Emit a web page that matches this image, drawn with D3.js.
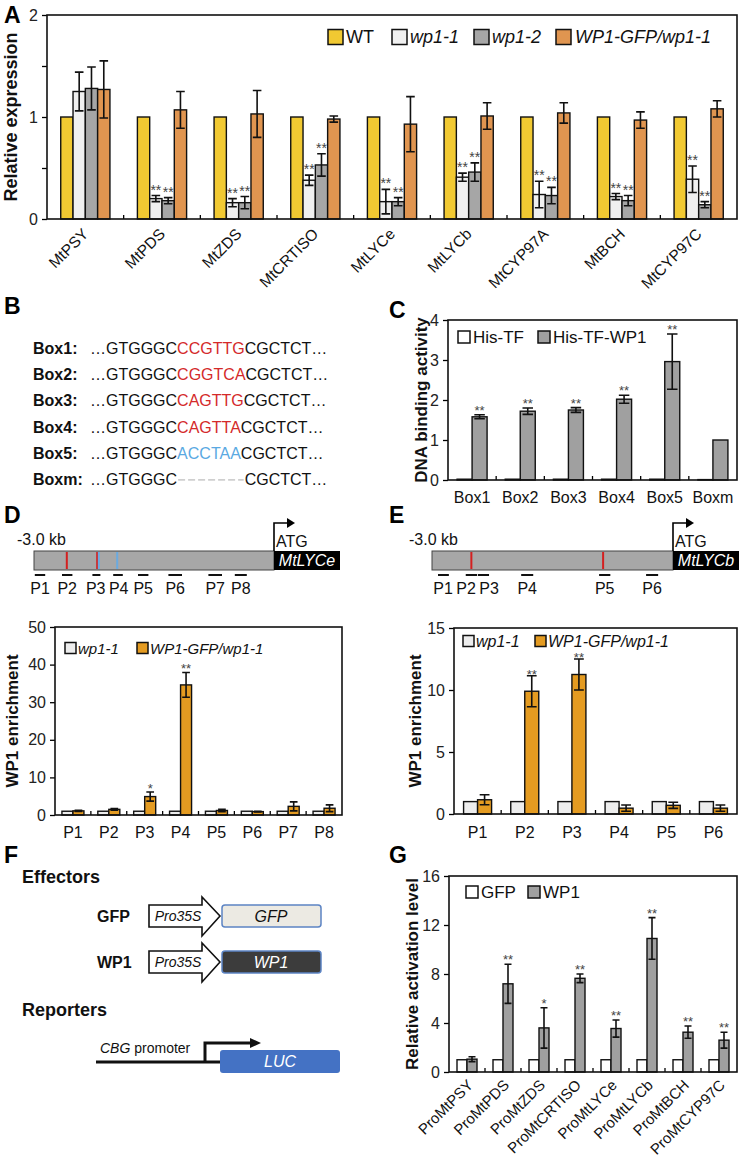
<!DOCTYPE html>
<html><head><meta charset="utf-8">
<script src="https://cdn.jsdelivr.net/npm/d3@7"></script>
<style>body{margin:0;background:#fff;} svg{display:block;} svg text{font-family:"Liberation Sans",Arial,sans-serif;}</style>
</head><body><svg id="fig" width="742" height="1162" font-family="Liberation Sans, Arial, sans-serif"></svg>
<script>
// ================= DATA =================
// Panel A
const genesA = ["MtPSY","MtPDS","MtZDS","MtCRTISO","MtLYCe","MtLYCb","MtCYP97A","MtBCH","MtCYP97C"];
const seriesA = ["WT","wp1-1","wp1-2","WP1-GFP/wp1-1"];
const wtA      = [1,1,1,1,1,1,1,1,1];
const wp11A    = [1.25,0.20,0.16,0.38,0.17,0.41,0.24,0.22,0.39];
const wp11ErrA = [0.19,0.03,0.04,0.05,0.12,0.04,0.13,0.03,0.13];
const wp12A    = [1.28,0.18,0.16,0.53,0.17,0.46,0.23,0.18,0.14];
const wp12ErrA = [0.21,0.03,0.06,0.11,0.04,0.09,0.08,0.05,0.03];
const compA    = [1.27,1.07,1.03,0.98,0.93,1.01,1.04,0.97,1.08];
const compErrA = [0.28,0.18,0.23,0.03,0.27,0.13,0.10,0.08,0.08];
const starsA   = ["","**","**","**","**","**","**","**","**"];
const ticksA = [0,0.5,1,1.5,2];
const tickLabelsA = [0,1,2];

// Panel B
const boxNames = ["Box1:","Box2:","Box3:","Box4:","Box5:","Boxm:"];
const boxLeft = "\u2026GTGGGC";
const boxCores = ["CCGTTG","CGGTCA","CAGTTG","CAGTTA","ACCTAA",""];
const boxCoreType = ["red","red","red","red","blue","gap"];
const boxRight = "CGCTCT\u2026";

// Panel C
const boxesC = ["Box1","Box2","Box3","Box4","Box5","Boxm"];
const seriesC = ["His-TF","His-TF-WP1"];
const hisTF = [0.02,0.02,0.02,0.02,0.02,0.01];
const hisTFWP1 = [1.58,1.72,1.75,2.02,2.96,1.0];
const hisTFWP1Err = [0.05,0.08,0.06,0.10,0.69,0];
const starsC = ["**","**","**","**","**",""];
const ticksC = [0,1,2,3,4];

// Panel D (MtLYCe promoter)
const primersD = ["P1","P2","P3","P4","P5","P6","P7","P8"];
const seriesD = ["wp1-1","WP1-GFP/wp1-1"];
const wp11D = [1,1,1,1,1,1,1,1];
const compD = [1.1,1.5,4.9,34.6,1.2,0.9,2.3,1.8];
const compErrD = [0.15,0.2,1.2,3.3,0.3,0.1,1.2,0.9];
const starsD = ["","","*","**","","","",""];
const ticksD = [0,10,20,30,40,50];
const lyceRedSites = [-2.59,-2.21];
const lyceBlueSites = [-2.19,-1.96];
const lycePrimers = [[-2.99,-2.86],[-2.65,-2.52],[-2.27,-2.17],[-2.01,-1.89],[-1.70,-1.57],[-1.32,-1.15],[-0.82,-0.65],[-0.49,-0.34]];

// Panel E (MtLYCb promoter)
const primersE = ["P1","P2","P3","P4","P5","P6"];
const wp11E = [1,1,1,1,1,1];
const compE = [1.15,9.9,11.25,0.47,0.7,0.47];
const compErrE = [0.4,1.25,1.25,0.25,0.25,0.25];
const starsE = ["","**","**","","",""];
const ticksE = [0,5,10,15];
const lycbRedSites = [-2.51,-0.87];
const lycbPrimers = [[-2.925,-2.79],[-2.58,-2.44],[-2.43,-2.29],[-1.89,-1.74],[-0.92,-0.78],[-0.335,-0.185]];

// Panel G
const promG = ["ProMtPSY","ProMtPDS","ProMtZDS","ProMtCRTISO","ProMtLYCe","ProMtLYCb","ProMtBCH","ProMtCYP97C"];
const seriesG = ["GFP","WP1"];
const gfpG = [1,1,1,1,1,1,1,1];
const wp1G = [1.05,7.2,3.6,7.65,3.55,10.9,3.25,2.6];
const wp1ErrG = [0.2,1.6,1.65,0.35,0.7,1.7,0.5,0.65];
const starsG = ["","**","*","**","**","**","**","**"];
const ticksG = [0,4,8,12,16];

// ================= DRAW =================
const svg = d3.select("#fig");
const FONT = '"Liberation Sans",Arial,sans-serif';

function panelLetter(t,x,y){
  svg.append("text").attr("x",x).attr("y",y).attr("font-size",23).attr("font-weight","bold").text(t);
}

function barPanel(c){
  const g = svg.append("g");
  const x = d3.scaleBand().domain(c.cats).range([c.L,c.R]);
  const y = d3.scaleLinear().domain([0,c.yMax]).range([c.B,c.T]);
  const keys = c.series.map(s=>s.key);
  const n = keys.length;
  const xi = d3.scaleBand().domain(keys).range([-n*c.bw/2, n*c.bw/2]);
  const starDy = c.starDy==null ? 0 : c.starDy;
  const ax = d3.axisLeft(y).tickValues(c.ticks).tickSize(5).tickPadding(4)
     .tickFormat(d => (c.labeled ? c.labeled.includes(d) : true) ? d : "");
  const ag = g.append("g").attr("transform",`translate(${c.L},0)`).call(ax);
  ag.attr("font-family",FONT);
  ag.select(".domain").remove();
  ag.selectAll("line").attr("stroke","#000").attr("stroke-width",1.3);
  ag.selectAll("text").attr("font-size",c.tickFont||16).attr("fill","#222");
  c.series.forEach(s=>{
    const d = c.cats.map((cat,i)=>({cat, v:s.values[i], e:s.errs?s.errs[i]:0, st:s.stars?s.stars[i]:""}));
    const cx = dd => x(dd.cat)+x.bandwidth()/2 + xi(s.key) + c.bw/2;
    g.selectAll(null).data(d).join("rect")
      .attr("x",dd=>x(dd.cat)+x.bandwidth()/2+xi(s.key))
      .attr("y",dd=>y(dd.v)).attr("width",c.bw).attr("height",dd=>y(0)-y(dd.v))
      .attr("fill",s.color).attr("stroke","#111").attr("stroke-width",1.4);
    const ed = d.filter(dd=>dd.e>0);
    const cap = c.bw*0.35;
    g.selectAll(null).data(ed).join("path")
      .attr("d",dd=>`M${cx(dd)},${y(dd.v-dd.e)}V${y(dd.v+dd.e)}M${cx(dd)-cap},${y(dd.v+dd.e)}H${cx(dd)+cap}M${cx(dd)-cap},${y(dd.v-dd.e)}H${cx(dd)+cap}`)
      .attr("stroke","#111").attr("stroke-width",1.6).attr("fill","none");
    g.selectAll(null).data(d.filter(dd=>dd.st)).join("text")
      .attr("x",cx).attr("y",dd=>y(dd.v+dd.e)+starDy)
      .attr("text-anchor","middle").attr("font-size",c.starFont||13).attr("fill","#444").text(dd=>dd.st);
  });
  g.selectAll(null).data(c.cats.slice(1)).join("line")
    .attr("x1",d=>x(d)).attr("x2",d=>x(d)).attr("y1",c.B).attr("y2",c.B-4)
    .attr("stroke","#000").attr("stroke-width",1.3);
  g.append("rect").attr("x",c.L).attr("y",c.T).attr("width",c.R-c.L).attr("height",c.B-c.T)
    .attr("fill","none").attr("stroke","#111").attr("stroke-width",1.6);
  if(c.rot){
    g.selectAll(null).data(c.cats).join("text")
      .attr("transform",d=>`translate(${x(d)+x.bandwidth()/2+c.rot.dx},${c.B+c.rot.dy}) rotate(-45)`)
      .attr("text-anchor","end").attr("font-size",c.rot.size).attr("font-family",FONT)
      .attr("fill","#111").text(d=>d);
  } else {
    g.selectAll(null).data(c.cats).join("text")
      .attr("x",d=>x(d)+x.bandwidth()/2).attr("y",c.B+c.xlDy)
      .attr("text-anchor","middle").attr("font-size",16).attr("fill","#111").text(d=>d);
  }
  g.append("text").attr("transform",`translate(${c.ylX},${(c.T+c.B)/2}) rotate(-90)`)
    .attr("text-anchor","middle").attr("dominant-baseline","central")
    .attr("font-size",c.ylSize||17).attr("font-weight","bold").attr("fill","#111").text(c.yLabel);
  c.legend.items.forEach((it,i)=>{
    const s = c.series[i];
    g.append("rect").attr("x",it.x).attr("y",c.legend.y-c.legend.sq/2).attr("width",c.legend.sq).attr("height",c.legend.sq)
      .attr("fill",s.color).attr("stroke","#111").attr("stroke-width",1.5);
    g.append("text").attr("x",it.tx).attr("y",c.legend.y).attr("dominant-baseline","central")
      .attr("font-size",c.legend.size).attr("font-style",it.italic?"italic":"normal").attr("fill","#111").text(s.key);
  });
  return {x,y};
}

const YEL="#F1C932", LG="#F0F0F0", DG="#A6A6A6", ORA="#E09550", ORA2="#E49B21";

// ---- Panel A
panelLetter("A",4,23);
barPanel({
  cats:genesA, L:47, R:737, T:15, B:219, yMax:2, ticks:ticksA, labeled:tickLabelsA, bw:12.3, starDy:-1, starFont:14,
  series:[
    {key:seriesA[0],values:wtA,color:YEL},
    {key:seriesA[1],values:wp11A,errs:wp11ErrA,stars:starsA,color:LG},
    {key:seriesA[2],values:wp12A,errs:wp12ErrA,stars:starsA,color:DG},
    {key:seriesA[3],values:compA,errs:compErrA,color:ORA}],
  rot:{dx:4,dy:16,size:15.5},
  yLabel:"Relative expression", ylX:11, ylSize:18,
  legend:{y:37,sq:15,size:18,items:[{x:328,tx:346},{x:392,tx:410,italic:true},{x:474,tx:492,italic:true},{x:556,tx:575,italic:true}]}
});

// ---- Panel B
panelLetter("B",4,314);
const rowY = d3.scaleBand().domain(boxNames).range([335,492]);
boxNames.forEach((nm,i)=>{
  const yb = rowY(nm)+rowY.bandwidth()/2+6;
  svg.append("text").attr("x",33).attr("y",yb).attr("font-size",16).attr("font-weight","bold").attr("fill","#111").text(nm);
  const t = svg.append("text").attr("x",90).attr("y",yb).attr("font-size",16).attr("fill","#111");
  const left = t.append("tspan").text(boxLeft);
  const type = boxCoreType[i];
  const core = t.append("tspan").text(type==="gap"?boxCores[0]:boxCores[i])
     .attr("fill", type==="red"?"#D42A2A": type==="blue"?"#5AA9E2":"none");
  t.append("tspan").text(boxRight);
  if(type==="gap"){
    const x0 = 90 + left.node().getComputedTextLength();
    const w = core.node().getComputedTextLength();
    svg.append("line").attr("x1",x0+1).attr("x2",x0+w-1).attr("y1",yb-5).attr("y2",yb-5)
      .attr("stroke","#cfcfcf").attr("stroke-width",1.6).attr("stroke-dasharray","7,3");
  }
});

// ---- Panel C
panelLetter("C",389,318);
barPanel({
  cats:boxesC, L:448, R:737, T:320, B:480, yMax:4, ticks:ticksC, bw:15,
  series:[{key:seriesC[0],values:hisTF,color:"#fff"},
          {key:seriesC[1],values:hisTFWP1,errs:hisTFWP1Err,stars:starsC,color:"#A0A0A0"}],
  xlDy:23, yLabel:"DNA binding activity", ylX:421, ylSize:17,
  legend:{y:337,sq:12,size:17,items:[{x:458,tx:473},{x:538,tx:553}]}
});

// ---- Promoter diagrams
function promoter(c){
  const g = svg.append("g");
  const x = d3.scaleLinear().domain([-3.0,0]).range([c.x0,c.x1]);
  g.append("text").attr("x",c.kbX).attr("y",545).attr("font-size",16).attr("fill","#111").text("-3.0 kb");
  g.append("rect").attr("x",x(-3)).attr("y",551).attr("width",x(0)-x(-3)).attr("height",19)
    .attr("fill","#A7A7A7").attr("stroke","#444").attr("stroke-width",1);
  g.append("rect").attr("x",x(0)).attr("y",551).attr("width",c.geneW).attr("height",19).attr("fill","#000");
  g.append("text").attr("x",x(0)+c.geneW/2).attr("y",566).attr("text-anchor","middle")
    .attr("font-size",16).attr("font-style","italic").attr("fill","#fff").text(c.gene);
  g.selectAll(null).data(c.red).join("line").attr("x1",d=>x(d)).attr("x2",d=>x(d)).attr("y1",552).attr("y2",569)
    .attr("stroke","#D42020").attr("stroke-width",2);
  g.selectAll(null).data(c.blue||[]).join("line").attr("x1",d=>x(d)).attr("x2",d=>x(d)).attr("y1",552).attr("y2",569)
    .attr("stroke","#6AAAE0").attr("stroke-width",2);
  g.append("path").attr("d",`M${x(0)},551V523H${x(0)+15}`).attr("stroke","#000").attr("stroke-width",1.6).attr("fill","none");
  g.append("path").attr("d",`M${x(0)+13},518L${x(0)+21},523L${x(0)+13},528Z`).attr("fill","#000");
  g.append("text").attr("x",x(0)+2).attr("y",547).attr("font-size",16).attr("fill","#111").text("ATG");
  g.selectAll(null).data(c.primers).join("line").attr("x1",d=>x(d[0])).attr("x2",d=>x(d[1])).attr("y1",575).attr("y2",575)
    .attr("stroke","#111").attr("stroke-width",2);
  const lx = c.primers.map(d=>x((d[0]+d[1])/2));
  for(let it=0;it<20;it++){
    for(let i=1;i<lx.length;i++){
      const gap = lx[i]-lx[i-1];
      if(gap<23){ const p=(23-gap)/2; lx[i]+=p; lx[i-1]-=p; }
    }
  }
  g.selectAll(null).data(c.names).join("text").attr("x",(d,i)=>lx[i]).attr("y",594).attr("text-anchor","middle")
    .attr("font-size",16).attr("fill","#111").text(d=>d);
}
panelLetter("D",4,523);
promoter({x0:34,x1:274,geneW:66,gene:"MtLYCe",kbX:17,red:lyceRedSites,blue:lyceBlueSites,primers:lycePrimers,names:primersD});
panelLetter("E",389,523);
promoter({x0:432,x1:673,geneW:66,gene:"MtLYCb",kbX:409,red:lycbRedSites,primers:lycbPrimers,names:primersE});

// ---- Panel D chart
barPanel({
  cats:primersD, L:55, R:342, T:627, B:815, yMax:50, ticks:ticksD, bw:11, starDy:1,
  series:[{key:seriesD[0],values:wp11D,color:"#EDEDED"},
          {key:seriesD[1],values:compD,errs:compErrD,stars:starsD,color:ORA2}],
  xlDy:23, yLabel:"WP1 enrichment", ylX:12, ylSize:17,
  legend:{y:648,sq:11,size:15,items:[{x:65,tx:78,italic:true},{x:137,tx:150,italic:true}]}
});

// ---- Panel E chart
barPanel({
  cats:primersE, L:454, R:737, T:628, B:814, yMax:15, ticks:ticksE, bw:14, starDy:3,
  series:[{key:seriesD[0],values:wp11E,color:"#EDEDED"},
          {key:seriesD[1],values:compE,errs:compErrE,stars:starsE,color:ORA2}],
  xlDy:24, yLabel:"WP1 enrichment", ylX:415, ylSize:17,
  legend:{y:641,sq:11,size:16,items:[{x:463,tx:476,italic:true},{x:535,tx:548,italic:true}]}
});

// ---- Panel F
panelLetter("F",4,863);
svg.append("text").attr("x",22).attr("y",883).attr("font-size",18).attr("font-weight","bold").attr("fill","#111").text("Effectors");
svg.append("text").attr("x",22).attr("y",1016).attr("font-size",18).attr("font-weight","bold").attr("fill","#111").text("Reporters");
const effectors = [{lab:"GFP",cy:916,fill:"#ECEAE3",tc:"#111"},{lab:"WP1",cy:962,fill:"#3C3C3C",tc:"#fff"}];
effectors.forEach(e=>{
  svg.append("text").attr("x",97).attr("y",e.cy+6).attr("font-size",16).attr("font-weight","bold").attr("fill","#111").text(e.lab);
  svg.append("path").attr("d",`M149,${e.cy-11}H202V${e.cy-19}L220,${e.cy}L202,${e.cy+20}V${e.cy+11}H149Z`)
    .attr("fill","#fff").attr("stroke","#111").attr("stroke-width",1.6);
  svg.append("text").attr("x",178).attr("y",e.cy+5).attr("text-anchor","middle").attr("font-size",14).attr("font-style","italic").attr("fill","#111").text("Pro35S");
  svg.append("rect").attr("x",222).attr("y",e.cy-11).attr("width",99).attr("height",22).attr("rx",3)
    .attr("fill",e.fill).attr("stroke","#5C84C4").attr("stroke-width",1.5);
  svg.append("text").attr("x",271).attr("y",e.cy+6).attr("text-anchor","middle").attr("font-size",16).attr("font-style","italic").attr("fill",e.tc).text(e.lab);
});
svg.append("line").attr("x1",96).attr("x2",222).attr("y1",1062).attr("y2",1062).attr("stroke","#111").attr("stroke-width",3);
svg.append("path").attr("d","M205,1062V1043H252").attr("stroke","#111").attr("stroke-width",3).attr("fill","none");
svg.append("path").attr("d","M250,1038L261,1043L250,1048Z").attr("fill","#111");
svg.append("rect").attr("x",220).attr("y",1050).attr("width",120).attr("height",23).attr("rx",3).attr("fill","#4472C4");
svg.append("text").attr("x",280).attr("y",1067).attr("text-anchor","middle").attr("font-size",16).attr("font-style","italic").attr("fill","#fff").text("LUC");
const cbg = svg.append("text").attr("x",100).attr("y",1053).attr("font-size",14).attr("fill","#111");
cbg.append("tspan").attr("font-style","italic").text("CBG");
cbg.append("tspan").text(" promoter");

// ---- Panel G
panelLetter("G",389,863);
barPanel({
  cats:promG, L:449, R:737, T:876, B:1072, yMax:16, ticks:ticksG, bw:10, starDy:0,
  series:[{key:seriesG[0],values:gfpG,color:"#fff"},
          {key:seriesG[1],values:wp1G,errs:wp1ErrG,stars:starsG,color:"#A0A0A0"}],
  rot:{dx:7,dy:14,size:15},
  yLabel:"Relative activation level", ylX:412, ylSize:17,
  legend:{y:892,sq:12,size:17,items:[{x:466,tx:481},{x:528,tx:543}]}
});
</script></body></html>
